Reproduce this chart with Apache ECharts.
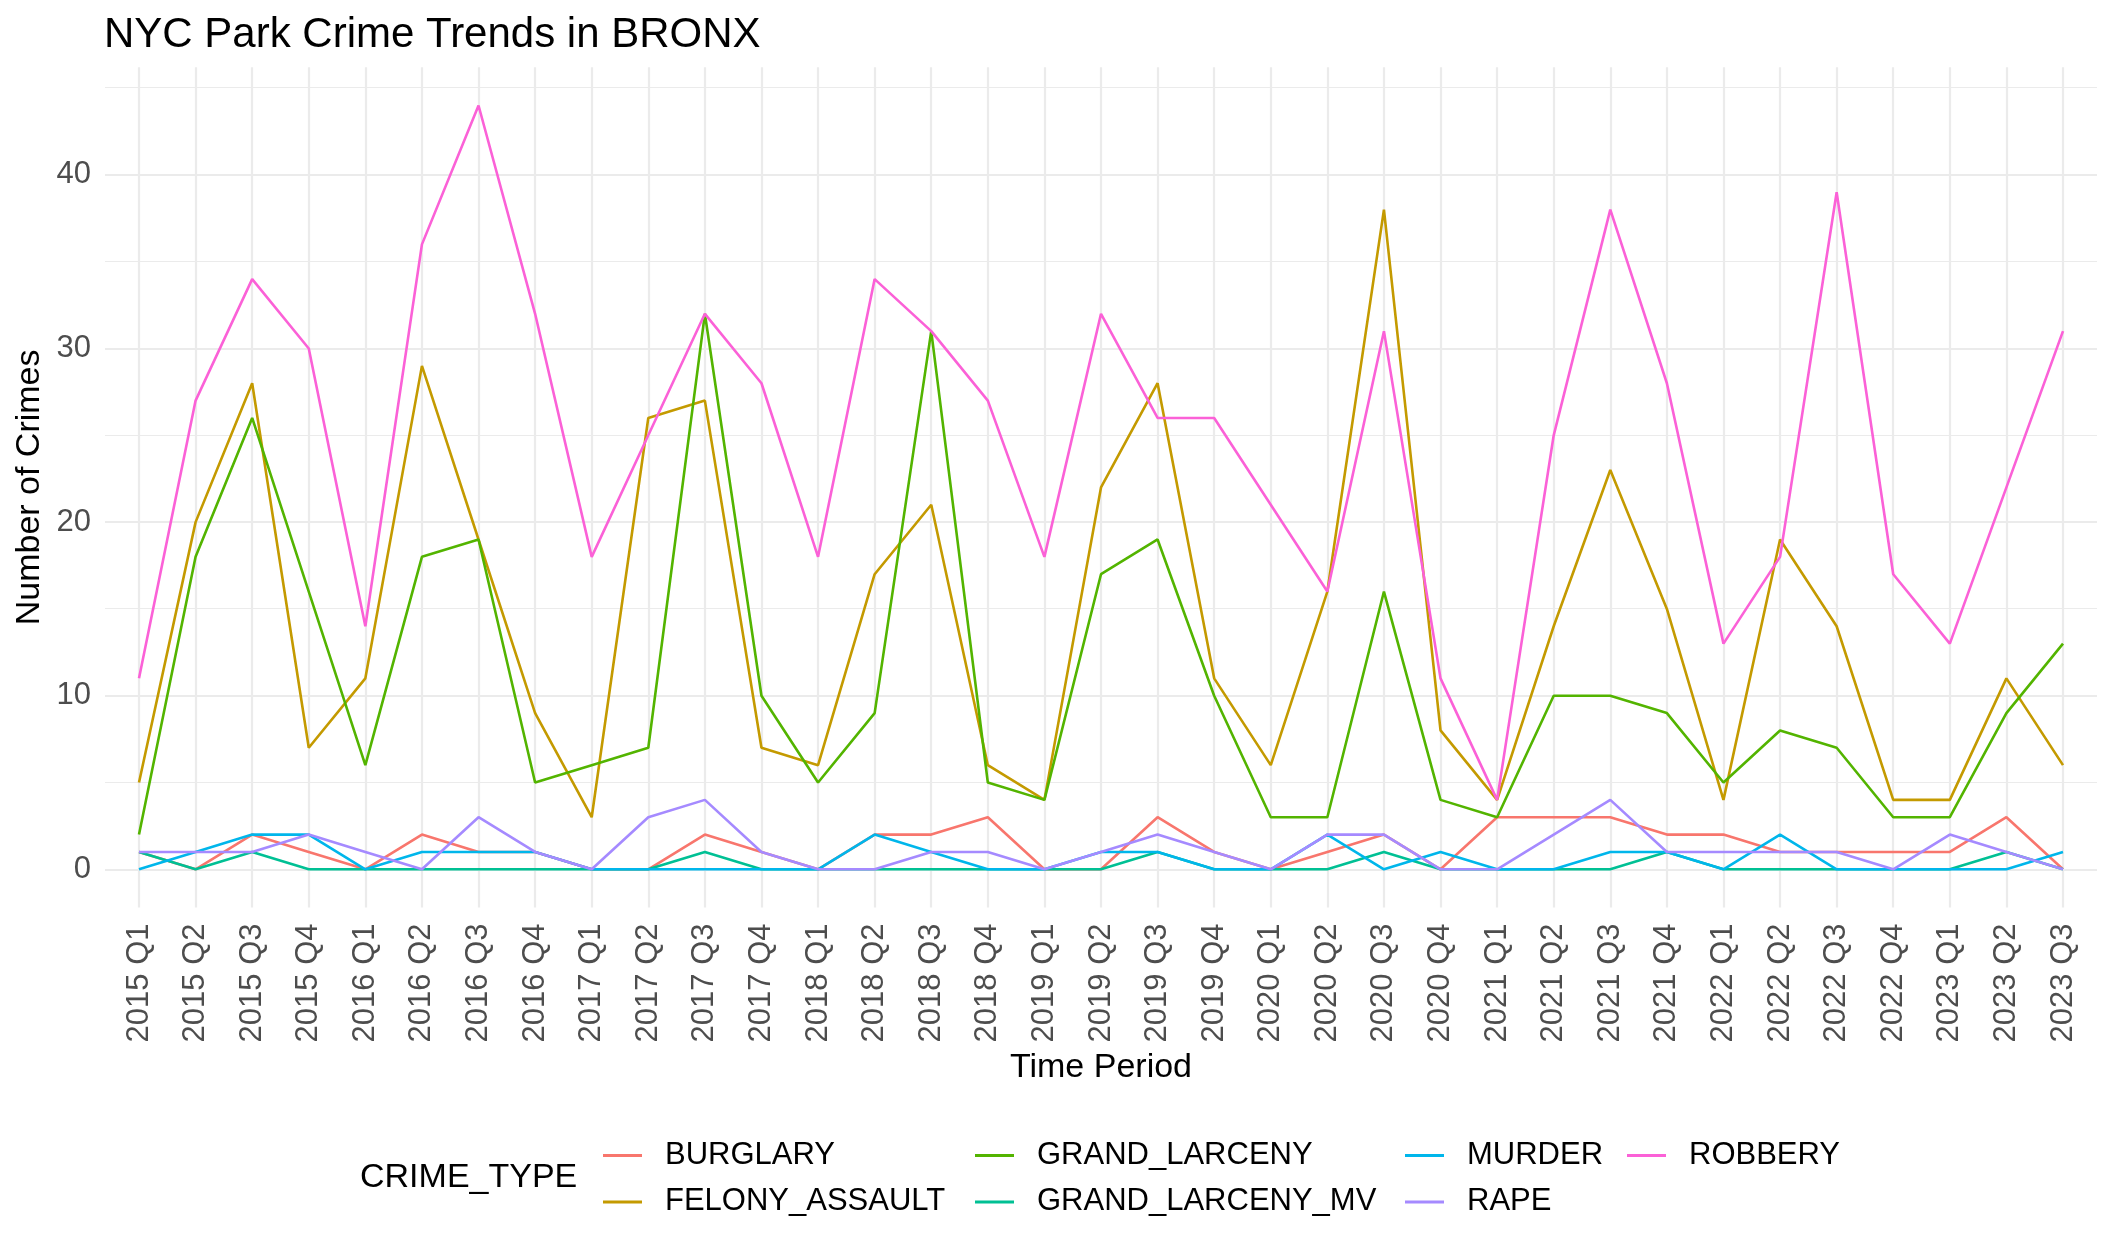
<!DOCTYPE html>
<html>
<head>
<meta charset="utf-8">
<script src="https://cdn.jsdelivr.net/npm/echarts@6/dist/echarts.min.js"></script>
<style>
  html, body { margin: 0; padding: 0; background: #fff; }
  #chart { width: 2112px; height: 1248px; }
</style>
</head>
<body>
<div id="chart"></div>
<script>
// quarters on the x axis
var periods = ['2015 Q1','2015 Q2','2015 Q3','2015 Q4','2016 Q1','2016 Q2','2016 Q3','2016 Q4',
  '2017 Q1','2017 Q2','2017 Q3','2017 Q4','2018 Q1','2018 Q2','2018 Q3','2018 Q4',
  '2019 Q1','2019 Q2','2019 Q3','2019 Q4','2020 Q1','2020 Q2','2020 Q3','2020 Q4',
  '2021 Q1','2021 Q2','2021 Q3','2021 Q4','2022 Q1','2022 Q2','2022 Q3','2022 Q4',
  '2023 Q1','2023 Q2','2023 Q3'];

// counts per crime type
var burglary      = [1,0,2,1,0,2,1,1,0,0,2,1,0,2,2,3,0,0,3,1,0,1,2,0,3,3,3,2,2,1,1,1,1,3,0];
var felonyAssault = [5,20,28,7,11,29,19,9,3,26,27,7,6,17,21,6,4,22,28,11,6,16,38,8,4,14,23,15,4,19,14,4,4,11,6];
var grandLarceny  = [2,18,26,16,6,18,19,5,6,7,32,10,5,9,31,5,4,17,19,10,3,3,16,4,3,10,10,9,5,8,7,3,3,9,13];
var grandLarcenyMV = [1,0,1,0,0,0,0,0,0,0,1,0,0,0,0,0,0,0,1,0,0,0,1,0,0,0,0,1,0,0,0,0,0,1,0];
var murder        = [0,1,2,2,0,1,1,1,0,0,0,0,0,2,1,0,0,1,1,0,0,2,0,1,0,0,1,1,0,2,0,0,0,0,1];
var rape          = [1,1,1,2,1,0,3,1,0,3,4,1,0,0,1,1,0,1,2,1,0,2,2,0,0,2,4,1,1,1,1,0,2,1,0];
var robbery       = [11,27,34,30,14,36,44,32,18,25,32,28,18,34,31,27,18,32,26,26,21,16,31,11,4,25,38,28,13,18,39,17,13,22,31];

var crimeTypes = ['BURGLARY','FELONY_ASSAULT','GRAND_LARCENY','GRAND_LARCENY_MV','MURDER','RAPE','ROBBERY'];
var crimeValues = [burglary, felonyAssault, grandLarceny, grandLarcenyMV, murder, rape, robbery];
var colors = ['#F8766D','#C49A00','#53B400','#00C094','#00B6EB','#A58AFF','#FB61D7'];

var FONT = 'Liberation Sans, Arial, sans-serif';
var GRID_COLOR = '#EBEBEB';

var myChart = echarts.init(document.getElementById('chart'), null, { renderer: 'canvas' });

var series = crimeTypes.map(function (name, i) {
  return {
    name: name,
    type: 'line',
    xAxisIndex: 2,
    yAxisIndex: 2,
    data: crimeValues[i],
    showSymbol: false,
    lineStyle: { width: 2.6, color: colors[i] },
    itemStyle: { color: colors[i] }
  };
});

// legend is laid out column by column like ggplot's
var legendCols = [[0, 1], [2, 3], [4, 5], [6]];
var legendLefts = [603, 975, 1405, 1627];
var legends = legendCols.map(function (col, c) {
  return {
    orient: 'vertical',
    left: legendLefts[c],
    top: 1140,
    padding: 0,
    itemGap: 15.4,
    itemWidth: 39,
    itemHeight: 3,
    icon: 'rect',
    selectedMode: false,
    data: col.map(function (k) { return crimeTypes[k]; }),
    textStyle: { fontFamily: FONT, fontSize: 31, lineHeight: 31, color: '#000', padding: [0, 0, 0, 18] }
  };
});

var option = {
  animation: false,
  color: colors,
  title: [
    {
      text: 'NYC Park Crime Trends in BRONX',
      left: 104, top: 14, padding: 0,
      textStyle: { fontFamily: FONT, fontSize: 42, fontWeight: 'normal', color: '#000' }
    },
    {
      text: 'CRIME_TYPE',
      left: 360, top: 1161, padding: 0,
      textStyle: { fontFamily: FONT, fontSize: 34, fontWeight: 'normal', color: '#000' }
    }
  ],
  legend: legends,
  grid: [
    // minor horizontal lines 0..45
    { left: 105, right: 15, top: 87.2, bottom: 378.7, outerBoundsMode: 'none' },
    // major horizontal lines 0..40 with labels
    { left: 105, right: 15, top: 174.9, bottom: 378.7, outerBoundsMode: 'none' },
    // data panel
    { left: 139, right: 49, top: 67.3, bottom: 340.5, outerBoundsMode: 'none' }
  ],
  xAxis: [
    { gridIndex: 0, type: 'value', min: 0, max: 1, show: false },
    { gridIndex: 1, type: 'value', min: 0, max: 1, show: false },
    {
      gridIndex: 2,
      type: 'category',
      data: periods,
      boundaryGap: false,
      axisLine: { show: false },
      axisTick: { show: false },
      splitLine: { show: true, lineStyle: { color: GRID_COLOR, width: 2.2 } },
      axisLabel: { interval: 0, rotate: 90, margin: 16, fontFamily: FONT, fontSize: 31, color: '#4D4D4D' },
      name: 'Time Period',
      nameLocation: 'middle',
      nameGap: 139,
      nameTextStyle: { fontFamily: FONT, fontSize: 34, color: '#000' }
    }
  ],
  yAxis: [
    {
      gridIndex: 0, type: 'value', min: 0, max: 45, interval: 5,
      axisLine: { show: false }, axisTick: { show: false }, axisLabel: { show: false },
      splitLine: { show: true, lineStyle: { color: GRID_COLOR, width: 1.1 } }
    },
    {
      gridIndex: 1, type: 'value', min: 0, max: 40, interval: 10,
      axisLine: { show: false }, axisTick: { show: false },
      axisLabel: { margin: 14, fontFamily: FONT, fontSize: 31, color: '#4D4D4D' },
      splitLine: { show: true, lineStyle: { color: GRID_COLOR, width: 2.2 } }
    },
    {
      gridIndex: 2, type: 'value', min: -2.2, max: 46.2,
      axisLine: { show: false }, axisTick: { show: false }, axisLabel: { show: false },
      splitLine: { show: false },
      name: 'Number of Crimes',
      nameLocation: 'middle',
      nameGap: 92,
      nameTextStyle: { fontFamily: FONT, fontSize: 34, color: '#000' }
    }
  ],
  series: series
};

myChart.setOption(option);
</script>
</body>
</html>
